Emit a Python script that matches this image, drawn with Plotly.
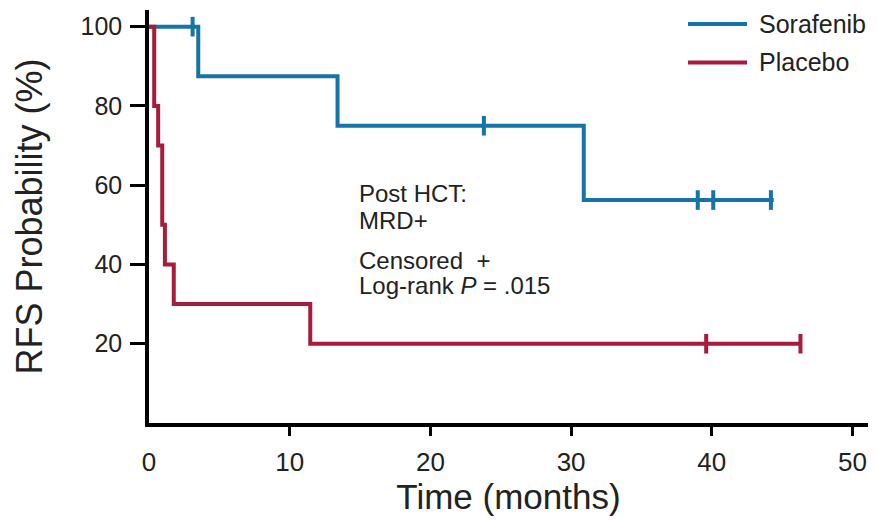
import plotly.graph_objects as go

# --- Data ---
sora_times = [0, 3.5, 13.4, 30.9]
sora_surv = [100, 87.5, 75, 56.25]
sora_end = 44.4
sora_cens_t = [3.1, 23.8, 39.0, 40.1, 44.2]
sora_cens_s = [100, 75, 56.25, 56.25, 56.25]

plac_times = [0, 0.37, 0.65, 0.94, 1.13, 1.76, 11.46]
plac_surv = [100, 80, 70, 50, 40, 30, 20]
plac_end = 46.4
plac_cens_t = [39.6, 46.3]
plac_cens_s = [20, 20]

x_ticks = [0, 10, 20, 30, 40, 50]
y_ticks = [20, 40, 60, 80, 100]
series_names = ["Sorafenib", "Placebo"]
note_lines = ["Post HCT:", "MRD+", "Censored  +", "Log-rank <i>P</i> = .015"]

BLUE = "#1674a6"
RED = "#a81b3a"
TXT = "#222222"
FONT = "Liberation Sans, Arial, sans-serif"

fig = go.Figure()

fig.add_trace(go.Scatter(
    x=sora_times + [sora_end], y=sora_surv + [sora_surv[-1]],
    mode="lines", line=dict(color=BLUE, width=4, shape="hv"),
    name=series_names[0], showlegend=False))
fig.add_trace(go.Scatter(
    x=plac_times + [plac_end], y=plac_surv + [plac_surv[-1]],
    mode="lines", line=dict(color=RED, width=4, shape="hv"),
    name=series_names[1], showlegend=False))
fig.add_trace(go.Scatter(
    x=sora_cens_t, y=sora_cens_s, mode="markers", showlegend=False,
    marker=dict(symbol="line-ns-open", size=14, color=BLUE,
                line=dict(color=BLUE, width=4))))
fig.add_trace(go.Scatter(
    x=plac_cens_t, y=plac_cens_s, mode="markers", showlegend=False,
    marker=dict(symbol="line-ns-open", size=14, color=RED,
                line=dict(color=RED, width=4))))
# helper empty trace for the secondary x-axis (tick marks without the 0 tick)
fig.add_trace(go.Scatter(x=[None], y=[None], xaxis="x2", showlegend=False, hoverinfo="skip"))

# Legend (drawn as swatches + labels, in paper coordinates)
legend_y = [0.966, 0.873]
for name, col, ly in zip(series_names, [BLUE, RED], legend_y):
    fig.add_shape(type="line", xref="paper", yref="paper", x0=0.7497, x1=0.8317,
                  y0=ly, y1=ly, line=dict(color=col, width=4))
    fig.add_annotation(x=0.845, y=ly, xref="paper", yref="paper", xanchor="left",
                       yanchor="middle", text=name, showarrow=False,
                       font=dict(family=FONT, size=25, color=TXT))

# In-plot note, one line per annotation
note_y = [58.0, 51.2, 41.1, 34.8]
for txt, ny in zip(note_lines, note_y):
    fig.add_annotation(x=14.8, y=ny, xref="x", yref="y", xanchor="left", yanchor="middle",
                       text=txt, showarrow=False, align="left",
                       font=dict(family=FONT, size=24, color=TXT))

fig.update_layout(
    width=869, height=514,
    margin=dict(l=141, r=9, t=2, b=99, autoexpand=False),
    plot_bgcolor="white", paper_bgcolor="white",
    showlegend=False,
    xaxis=dict(range=[0, 51.1], tickvals=x_ticks, ticks="", showline=True,
               linecolor="black", linewidth=3.5, showgrid=False, zeroline=False,
               ticklabelstandoff=13,
               tickfont=dict(family=FONT, size=26, color=TXT),
               title=dict(text="Time (months)", standoff=10,
                          font=dict(family=FONT, size=35, color=TXT))),
    xaxis2=dict(range=[0, 51.1], overlaying="x", side="bottom", anchor="y",
                tickvals=x_ticks[1:], ticks="outside", ticklen=12, tickwidth=2.5,
                tickcolor="black", showticklabels=False, showgrid=False,
                zeroline=False, showline=False),
    yaxis=dict(range=[0, 104.2], tickvals=y_ticks, ticks="outside", ticklen=15,
               tickwidth=2.5, tickcolor="black", showline=True, linecolor="black",
               linewidth=3.5, showgrid=False, zeroline=False, ticklabelstandoff=3,
               tickfont=dict(family=FONT, size=25, color=TXT),
               title=dict(text="RFS Probability (%)", standoff=28,
                          font=dict(family=FONT, size=36, color=TXT))),
)

fig.write_html("out.html")
